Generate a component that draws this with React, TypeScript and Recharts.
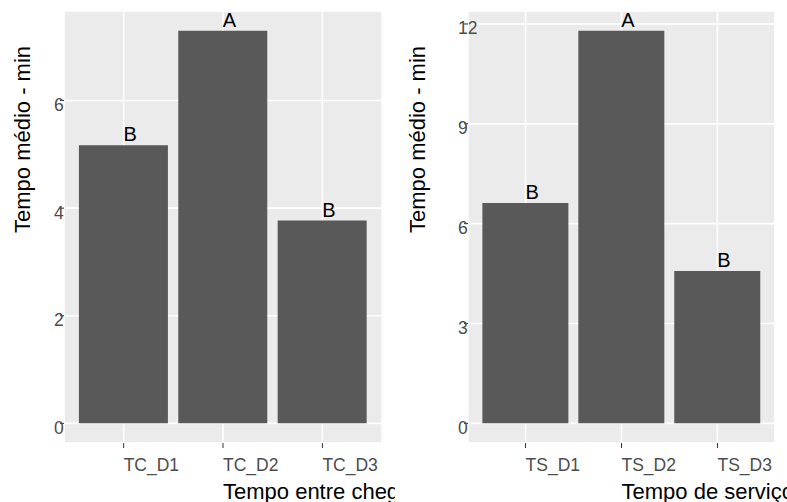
import { BarChart, Bar, XAxis, YAxis, CartesianGrid, LabelList, Label } from 'recharts'

const tcCategories = ['TC_D1', 'TC_D2', 'TC_D3']
const tcMeans = [5.17, 7.3, 3.77]
const tcGroups = ['B', 'A', 'B']
const tcTicks = [0, 2, 4, 6]
const tcMinorTicks = [1, 3, 5, 7]

const tsCategories = ['TS_D1', 'TS_D2', 'TS_D3']
const tsMeans = [6.62, 11.8, 4.58]
const tsGroups = ['B', 'A', 'B']
const tsTicks = [0, 3, 6, 9, 12]
const tsMinorTicks = [1.5, 4.5, 7.5, 10.5]

const yTitle = 'Tempo médio - min'
const tcTitle = 'Tempo entre chegadas'
const tsTitle = 'Tempo de serviço'

const FONT = '"Liberation Sans", Arial, Helvetica, sans-serif'
const HEIGHT = 502
const PLOT_TOP = 11
const PLOT_BOTTOM = 443
const Y_AXIS_W = 20

function makeRows(cats: string[], values: number[], groups: string[]) {
  return cats.map((cat, i) => ({ cat, value: values[i], group: groups[i] }))
}

function XTick({ x, y, payload }: any) {
  return (
    <text x={x} y={y + 21} textAnchor="start" fontSize={17.5} fontFamily={FONT} fill="#4D4D4D">
      {payload.value}
    </text>
  )
}

function YTick({ x, y, payload }: any) {
  return (
    <text x={x - 4} y={y + 10.5} textAnchor="start" fontSize={17.5} fontFamily={FONT} fill="#4D4D4D">
      {payload.value}
    </text>
  )
}

function BarLetter({ x, y, width, value }: any) {
  return (
    <text x={x + width / 2} y={y - 4} textAnchor="start" fontSize={20} fontFamily={FONT} fill="#000000">
      {value}
    </text>
  )
}

interface PanelProps {
  rows: Array<{ cat: string; value: number; group: string }>
  ticks: number[]
  minorTicks: number[]
  xTitle: string
  left: number
  width: number
  plotLeft: number
  plotRight: number
}

function Panel({ rows, ticks, minorTicks, xTitle, left, width, plotLeft, plotRight }: PanelProps) {
  const max = Math.max(...rows.map((r) => r.value))
  // ggplot default expansion: 5% of the range on both ends
  const domain = [-0.05 * max, 1.05 * max]
  const plotWidth = width - plotLeft - plotRight
  const pad = (plotWidth * 0.1) / 3.2

  return (
    <div style={{ position: 'absolute', left, top: 0, width, height: HEIGHT, overflow: 'hidden' }}>
      <BarChart
        width={width}
        height={HEIGHT}
        data={rows}
        margin={{ top: PLOT_TOP, right: plotRight, bottom: 0, left: plotLeft - Y_AXIS_W }}
        barCategoryGap="5%"
      >
        <CartesianGrid fill="#EBEBEB" stroke="#FFFFFF" strokeWidth={0.8} vertical={false} yAxisId="minor" />
        <CartesianGrid stroke="#FFFFFF" strokeWidth={1.6} yAxisId="main" />
        <XAxis
          dataKey="cat"
          height={HEIGHT - PLOT_BOTTOM}
          padding={{ left: pad, right: pad }}
          axisLine={false}
          tickSize={5}
          tickLine={{ stroke: '#333333' }}
          tick={<XTick />}
          interval={0}
        >
          <Label
            content={({ viewBox }: any) => (
              <text
                x={viewBox.x + viewBox.width / 2}
                y={viewBox.y + 56}
                textAnchor="start"
                fontSize={22}
                fontFamily={FONT}
                fill="#000000"
              >
                {xTitle}
              </text>
            )}
          />
        </XAxis>
        <YAxis yAxisId="minor" type="number" hide domain={domain} ticks={minorTicks} interval={0} />
        <YAxis
          yAxisId="main"
          type="number"
          width={Y_AXIS_W}
          domain={domain}
          ticks={ticks}
          interval={0}
          axisLine={false}
          tickSize={4}
          tickLine={{ stroke: '#333333' }}
          tick={<YTick />}
        >
          <Label
            content={({ viewBox }: any) => {
              const cy = viewBox.y + viewBox.height / 2 + 6
              return (
                <text
                  x={30}
                  y={cy}
                  transform={`rotate(-90, 30, ${cy})`}
                  textAnchor="start"
                  fontSize={22}
                  fontFamily={FONT}
                  fill="#000000"
                >
                  {yTitle}
                </text>
              )
            }}
          />
        </YAxis>
        <Bar dataKey="value" yAxisId="main" fill="#595959" isAnimationActive={false}>
          <LabelList dataKey="group" content={<BarLetter />} />
        </Bar>
      </BarChart>
    </div>
  )
}

export default function App() {
  return (
    <div style={{ position: 'absolute', left: 0, top: 0, width: 787, height: HEIGHT, overflow: 'hidden', background: '#FFFFFF' }}>
      <Panel
        rows={makeRows(tcCategories, tcMeans, tcGroups)}
        ticks={tcTicks}
        minorTicks={tcMinorTicks}
        xTitle={tcTitle}
        left={0}
        width={395}
        plotLeft={64}
        plotRight={13}
      />
      <Panel
        rows={makeRows(tsCategories, tsMeans, tsGroups)}
        ticks={tsTicks}
        minorTicks={tsMinorTicks}
        xTitle={tsTitle}
        left={395}
        width={392}
        plotLeft={73}
        plotRight={12}
      />
    </div>
  )
}
